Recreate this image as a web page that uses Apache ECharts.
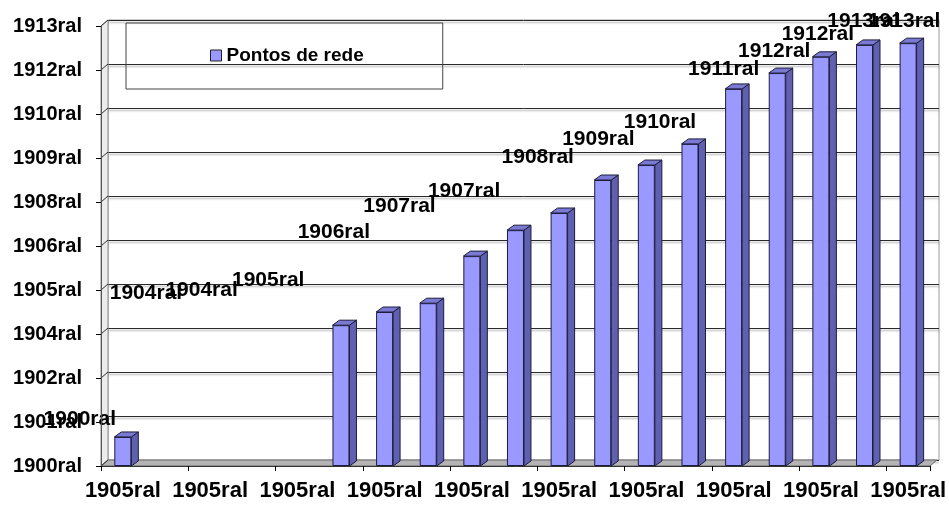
<!DOCTYPE html>
<html>
<head>
<meta charset="utf-8">
<script src="https://cdn.jsdelivr.net/npm/echarts@6/dist/echarts.min.js"></script>
<style>
html,body{margin:0;padding:0;background:#fff;}
#chart{width:949px;height:505px;}
</style>
</head>
<body>
<div id="chart"></div>
<script>
// ---- data ----
const categories = ['1905ral','1905ral','1905ral','1905ral','1905ral','1905ral','1905ral','1905ral','1905ral','1905ral',
                    '1905ral','1905ral','1905ral','1905ral','1905ral','1905ral','1905ral','1905ral','1905ral'];
const values = [0.66, null, null, null, null, 3.20, 3.50, 3.70, 4.77, 5.36, 5.75, 6.50, 6.84, 7.32, 8.57, 8.93, 9.30, 9.57, 9.61];
const valueLabels = ['1900ral','','','','','1904ral','1904ral','1905ral','1906ral','1907ral','1907ral','1908ral','1909ral',
                     '1910ral','1911ral','1912ral','1912ral','1913ral','1913ral'];
const yTickLabels = ['1900ral','1901ral','1902ral','1904ral','1905ral','1906ral','1908ral','1909ral','1910ral','1912ral','1913ral'];
const seriesName = 'Pontos de rede';

// label displacement (as in the original, labels drift left of their bars)
const labelShift = [[-43,4],[0,0],[0,0],[0,0],[0,0],[-195,-10],[-183,0],[-160,-1],[-138,-2],[-116,-2],[-95,0],
                    [-65,-1],[-48,-4],[-30,0],[-10,2],[-3,0],[-3,-1],[-1,-2],[-4,0]];

// ---- style constants ----
const FONT = '"Liberation Sans", Arial, sans-serif';
const BAR_W = 17, BAR_DX = 7, BAR_DY = -5;
const WALL_DX = 7, WALL_DY = -6;

const chart = echarts.init(document.getElementById('chart'), null, {renderer: 'canvas'});

const barData = values.map((v, i) => ({
  value: v,
  label: { show: v != null, offset: labelShift[i], formatter: valueLabels[i] }
}));

function renderBar3D(params, api) {
  const v = api.value(1);
  if (v == null || isNaN(v)) return;
  const top = api.coord([api.value(0), v]);
  const bot = api.coord([api.value(0), 0]);
  const l = top[0] - BAR_W / 2, r = top[0] + BAR_W / 2;
  const ty = top[1], by = bot[1];
  return {
    type: 'group',
    children: [
      { type: 'polygon', shape: { points: [[r, ty], [r + BAR_DX, ty + BAR_DY], [r + BAR_DX, by + BAR_DY], [r, by]] },
        style: { fill: '#6060b0', stroke: '#1c1c3c', lineWidth: 1 } },
      { type: 'polygon', shape: { points: [[l, ty], [l + BAR_DX, ty + BAR_DY], [r + BAR_DX, ty + BAR_DY], [r, ty]] },
        style: { fill: '#7a7ad2', stroke: '#1c1c3c', lineWidth: 1 } }
    ]
  };
}

function renderFrame(params, api) {
  const cs = params.coordSys;
  const x0 = cs.x, x1 = cs.x + cs.width, yb = cs.y + cs.height, yt = cs.y;
  const children = [];
  // left wall
  children.push({ type: 'polygon', shape: { points: [[x0, yb], [x0, yt], [x0 + WALL_DX, yt + WALL_DY], [x0 + WALL_DX, yb + WALL_DY]] },
    style: { fill: '#ececec', stroke: '#8a8a8a', lineWidth: 1 } });
  // floor
  children.push({ type: 'polygon', shape: { points: [[x0, yb], [x1, yb], [x1 + WALL_DX, yb + WALL_DY], [x0 + WALL_DX, yb + WALL_DY]] },
    style: { fill: '#b4b4b4', stroke: '#6a6a6a', lineWidth: 1 } });
  // connectors from the value ticks to the back wall grid lines
  for (let k = 0; k < yTickLabels.length; k++) {
    const p = api.coord([0, k]);
    children.push({ type: 'line', shape: { x1: x0, y1: p[1], x2: x0 + WALL_DX, y2: p[1] + WALL_DY },
      style: { stroke: '#333', lineWidth: 1 } });
  }
  return { type: 'group', children };
}

const option = {
  animation: false,
  backgroundColor: '#ffffff',
  textStyle: { fontFamily: FONT },
  legend: {
    data: [seriesName],
    left: 126, top: 23,
    orient: 'horizontal',
    padding: [23, 79, 24, 84],
    borderColor: '#444', borderWidth: 1,
    icon: 'rect', itemWidth: 11, itemHeight: 11, itemGap: 5,
    itemStyle: { borderColor: '#222', borderWidth: 1 },
    textStyle: { fontFamily: FONT, fontWeight: 'bold', fontSize: 19, color: '#000', padding: [0, 0, 0, 0] }
  },
  grid: [
    { left: 101, right: 17, top: 26, bottom: 39, containLabel: false },
    { left: 108, right: 10, top: 20, bottom: 45, containLabel: false, show: true, borderColor: '#9a9a9a', borderWidth: 1, backgroundColor: 'transparent' }
  ],
  xAxis: [
    { type: 'category', gridIndex: 0, data: categories, boundaryGap: true, z: 5,
      axisLine: { show: true, lineStyle: { color: '#333', width: 1 } },
      axisTick: { show: true, interval: 1, length: 5, lineStyle: { color: '#000' } },
      axisLabel: { interval: 1, margin: 14, fontFamily: FONT, fontWeight: 'bold', fontSize: 22, color: '#000' },
      splitLine: { show: false } },
    { type: 'category', gridIndex: 1, data: categories, show: false }
  ],
  yAxis: [
    { type: 'value', gridIndex: 0, min: 0, max: 10, interval: 1, z: 5,
      axisLine: { show: true, lineStyle: { color: '#555', width: 1 } },
      axisTick: { show: true, length: 5, lineStyle: { color: '#000' } },
      axisLabel: { margin: 19, fontFamily: FONT, fontWeight: 'bold', fontSize: 20, color: '#000',
        formatter: (val) => yTickLabels[Math.round(val)] },
      splitLine: { show: false } },
    { type: 'value', gridIndex: 1, min: 0, max: 10, interval: 1,
      axisLine: { show: false }, axisTick: { show: false }, axisLabel: { show: false },
      splitLine: { show: true, lineStyle: { color: '#2a2a2a', width: 1, shadowColor: 'rgba(0,0,0,0.35)', shadowBlur: 2, shadowOffsetY: 2 } } }
  ],
  series: [
    { type: 'custom', name: 'frame', xAxisIndex: 0, yAxisIndex: 0, z: 1, silent: true,
      renderItem: renderFrame, data: [[0, 0]], legendHoverLink: false },
    { type: 'bar', name: seriesName, xAxisIndex: 0, yAxisIndex: 0, z: 3,
      barWidth: BAR_W,
      itemStyle: { color: '#9999ff', borderColor: '#1c1c3c', borderWidth: 1 },
      label: { show: true, position: 'top', distance: 11, fontFamily: FONT, fontWeight: 'bold', fontSize: 21,
        lineHeight: 21, color: '#000' },
      data: barData },
    { type: 'custom', name: 'bar3d', xAxisIndex: 0, yAxisIndex: 0, z: 3, silent: true,
      renderItem: renderBar3D, encode: { x: 0, y: 1 },
      data: values.map((v, i) => [i, v == null ? '-' : v]) }
  ]
};
chart.setOption(option);
</script>
</body>
</html>
